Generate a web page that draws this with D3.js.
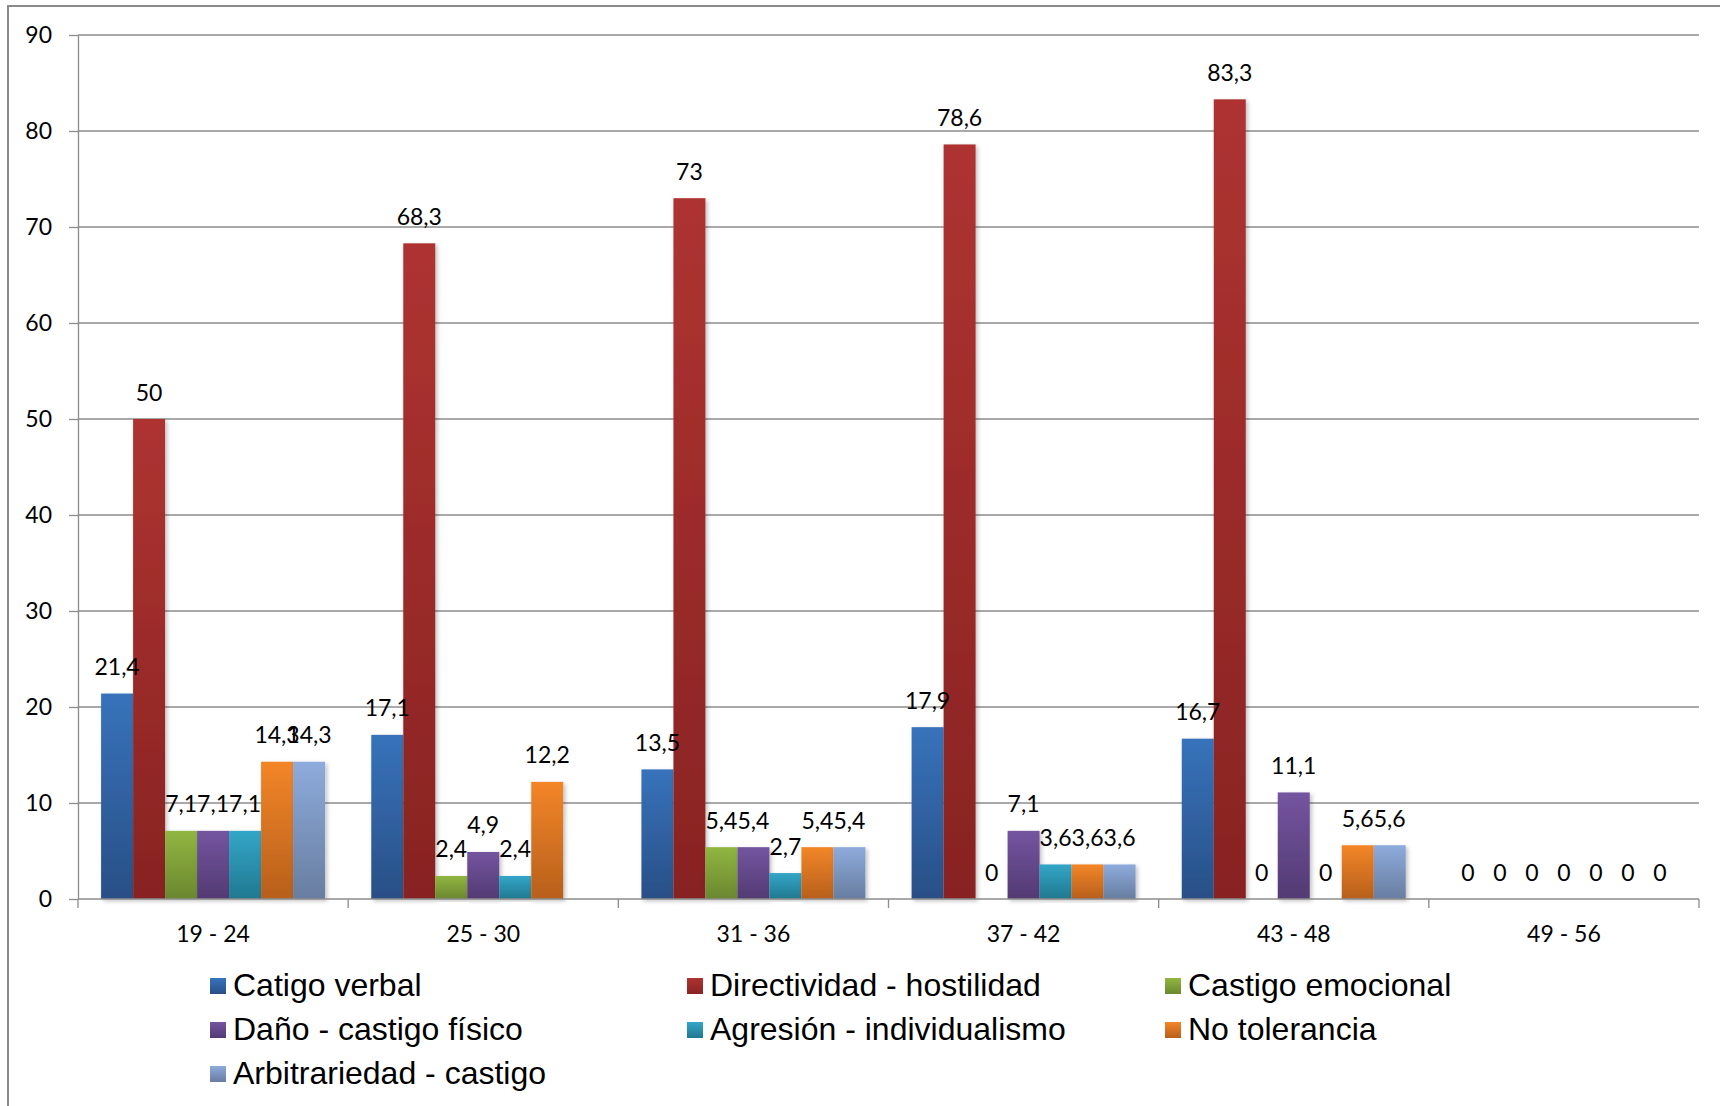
<!DOCTYPE html>
<html lang="es">
<head>
<meta charset="utf-8">
<script src="https://cdn.jsdelivr.net/npm/d3@7"></script>
<style>
  html, body { margin: 0; padding: 0; background: #fff; }
  svg { display: block; }
</style>
</head>
<body>
<svg id="chart" width="1720" height="1106"></svg>
<script>
// Age ranges (x categories)
const categories = ["19 - 24", "25 - 30", "31 - 36", "37 - 42", "43 - 48", "49 - 56"];

// Series names, in legend order
const seriesNames = [
  "Catigo verbal",
  "Directividad - hostilidad",
  "Castigo emocional",
  "Daño - castigo físico",
  "Agresión - individualismo",
  "No tolerancia",
  "Arbitrariedad - castigo"
];

// Percentages per age range (null = no value reported)
const catigoVerbal        = [21.4, 17.1, 13.5, 17.9, 16.7, 0];
const directividad        = [50, 68.3, 73, 78.6, 83.3, 0];
const castigoEmocional    = [7.1, 2.4, 5.4, 0, 0, 0];
const danoCastigoFisico   = [7.1, 4.9, 5.4, 7.1, 11.1, 0];
const agresionIndividual  = [7.1, 2.4, 2.7, 3.6, 0, 0];
const noTolerancia        = [14.3, 12.2, 5.4, 3.6, 5.6, 0];
const arbitrariedad       = [14.3, null, 5.4, 3.6, 5.6, 0];

// Y axis tick values
const yTicks = [0, 10, 20, 30, 40, 50, 60, 70, 80, 90];

const seriesValues = [catigoVerbal, directividad, castigoEmocional, danoCastigoFisico,
                      agresionIndividual, noTolerancia, arbitrariedad];

// Gradient stops (top, bottom) for each series
const seriesColors = [
  ["#3773bb", "#294f86"],
  ["#ae3331", "#882322"],
  ["#91b641", "#6a872f"],
  ["#7455a0", "#533a73"],
  ["#33a6c8", "#217890"],
  ["#f38628", "#b75f1c"],
  ["#8dabdc", "#687da0"]
];

const svg = d3.select("#chart");
const W = 1720, H = 1106;
const plotLeft = 78, plotRight = 1699, plotTop = 35, plotBottom = 899;

const defs = svg.append("defs");
seriesColors.forEach((c, i) => {
  const g = defs.append("linearGradient")
    .attr("id", "grad" + i).attr("x1", 0).attr("y1", 0).attr("x2", 0).attr("y2", 1);
  g.append("stop").attr("offset", "0%").attr("stop-color", c[0]);
  g.append("stop").attr("offset", "100%").attr("stop-color", c[1]);
});
const shadow = defs.append("filter").attr("id", "barShadow")
  .attr("x", "-20%").attr("y", "-5%").attr("width", "150%").attr("height", "115%");
shadow.append("feDropShadow").attr("dx", 2).attr("dy", 2)
  .attr("stdDeviation", 2).attr("flood-color", "#000").attr("flood-opacity", 0.25);

// Outer frame (left and top edges)
svg.append("path")
  .attr("d", `M8,${H} L8,6 L${W},6`)
  .attr("fill", "none").attr("stroke", "#8a8a8a").attr("stroke-width", 2);

// Scales
const pad = 0.171;
const x0 = d3.scaleBand().domain(categories).range([plotLeft, plotRight])
  .paddingInner(pad).paddingOuter(pad / 2);
const x1 = d3.scaleBand().domain(d3.range(seriesNames.length)).range([0, x0.bandwidth()]);
const y = d3.scaleLinear().domain([0, 90]).range([plotBottom, plotTop]);

// Horizontal gridlines
svg.append("g").selectAll("line").data(yTicks.filter(t => t > 0)).join("line")
  .attr("x1", plotLeft).attr("x2", plotRight)
  .attr("y1", d => y(d)).attr("y2", d => y(d))
  .attr("stroke", "#8c8c8c").attr("stroke-width", 1.3);

// Y axis
const yAxis = svg.append("g").attr("transform", `translate(${plotLeft},0)`)
  .call(d3.axisLeft(y).tickValues(yTicks).tickSizeInner(9).tickSizeOuter(0).tickPadding(17));
yAxis.select(".domain").attr("stroke", "#8c8c8c").attr("stroke-width", 1.3);
yAxis.selectAll(".tick line").attr("stroke", "#8c8c8c").attr("stroke-width", 1.3);
yAxis.selectAll(".tick text")
  .attr("font-family", "Lato, 'Open Sans', sans-serif")
  .attr("font-size", 23).attr("fill", "#000");

// Bars and value labels
const groups = svg.append("g").selectAll("g").data(categories).join("g")
  .attr("transform", d => `translate(${x0(d)},0)`);

groups.each(function (c, ci) {
  const g = d3.select(this);
  const items = seriesValues.map((vals, si) => ({ si, v: vals[ci] }))
    .filter(d => d.v !== null);
  g.selectAll("rect").data(items.filter(d => d.v > 0)).join("rect")
    .attr("x", d => x1(d.si))
    .attr("width", x1.bandwidth())
    .attr("y", d => y(d.v))
    .attr("height", d => y(0) - y(d.v))
    .attr("fill", d => `url(#grad${d.si})`)
    .attr("filter", "url(#barShadow)");
  g.selectAll("text").data(items).join("text")
    .attr("x", d => x1(d.si) + x1.bandwidth() / 2)
    .attr("y", d => y(d.v) - 18.5)
    .attr("text-anchor", "middle")
    .attr("font-family", "Lato, 'Open Sans', sans-serif")
    .attr("font-size", 23).attr("fill", "#000")
    .text(d => String(d.v).replace(".", ","));
});

// X axis
svg.append("line")
  .attr("x1", plotLeft).attr("x2", plotRight).attr("y1", plotBottom).attr("y2", plotBottom)
  .attr("stroke", "#8c8c8c").attr("stroke-width", 1.3);
const step = x0.step();
const boundaries = categories.map(c => x0(c) - step * pad / 2).concat([plotRight]);
svg.append("g").selectAll("line").data(boundaries).join("line")
  .attr("x1", d => d).attr("x2", d => d)
  .attr("y1", plotBottom).attr("y2", plotBottom + 9)
  .attr("stroke", "#8c8c8c").attr("stroke-width", 1.3);
const xAxis = svg.append("g").attr("transform", `translate(0,${plotBottom})`)
  .call(d3.axisBottom(x0).tickSize(0).tickPadding(27));
xAxis.select(".domain").remove();
xAxis.selectAll(".tick text")
  .attr("font-family", "Lato, 'Open Sans', sans-serif")
  .attr("font-size", 23).attr("fill", "#000");

// Legend: three columns
const legend = svg.append("g");
const legCols = [210, 687, 1165];
const legRows = [996, 1040, 1084];
seriesNames.forEach((name, i) => {
  const cx = legCols[i % 3], by = legRows[Math.floor(i / 3)];
  legend.append("rect")
    .attr("x", cx).attr("y", by - 18).attr("width", 16).attr("height", 16)
    .attr("fill", `url(#grad${i})`);
  legend.append("text")
    .attr("x", cx + 23).attr("y", by)
    .attr("font-family", "'Liberation Sans', Arial, sans-serif")
    .attr("font-size", 32).attr("fill", "#000")
    .text(name);
});
</script>
</body>
</html>
